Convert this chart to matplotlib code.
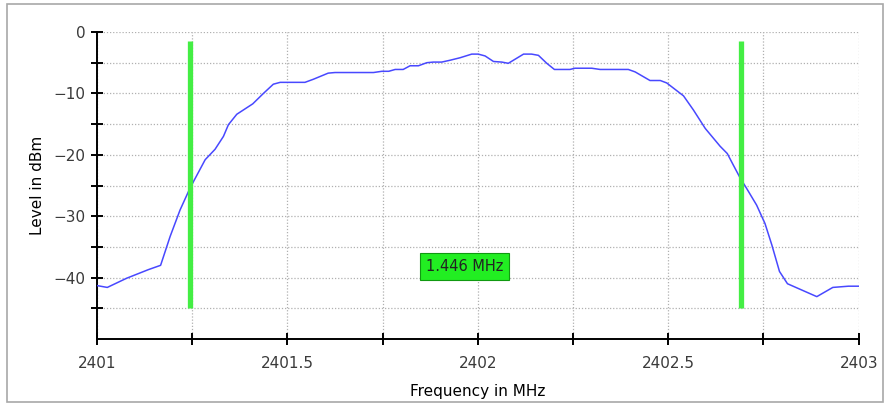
import numpy as np
import matplotlib
matplotlib.use("Agg")
import matplotlib.pyplot as plt
from matplotlib.patches import Rectangle
from matplotlib.ticker import MultipleLocator

# spectrum trace
freq = [2401.000, 2401.027, 2401.078, 2401.135, 2401.167, 2401.192, 2401.218,
        2401.240, 2401.253, 2401.284, 2401.310, 2401.332, 2401.345, 2401.367,
        2401.409, 2401.437, 2401.463, 2401.481, 2401.546, 2401.568, 2401.607,
        2401.625, 2401.726, 2401.748, 2401.766, 2401.783, 2401.804, 2401.822,
        2401.844, 2401.866, 2401.883, 2401.905, 2401.927, 2401.953, 2401.984,
        2402.001, 2402.019, 2402.041, 2402.063, 2402.080, 2402.120, 2402.141,
        2402.159, 2402.181, 2402.201, 2402.242, 2402.255, 2402.299, 2402.321,
        2402.395, 2402.413, 2402.452, 2402.479, 2402.496, 2402.540, 2402.566,
        2402.597, 2402.636, 2402.655, 2402.671, 2402.689, 2402.706, 2402.732,
        2402.754, 2402.772, 2402.792, 2402.813, 2402.890, 2402.932, 2402.973,
        2403.000]
level = [-41.3, -41.6, -40.1, -38.7, -38.0, -33.3, -29.0,
         -26.0, -24.4, -20.8, -19.1, -17.0, -15.1, -13.4,
         -11.7, -10.0, -8.5, -8.2, -8.2, -7.7, -6.7,
         -6.6, -6.6, -6.4, -6.4, -6.1, -6.1, -5.5,
         -5.5, -5.0, -4.9, -4.9, -4.6, -4.2, -3.6,
         -3.6, -3.9, -4.8, -4.9, -5.1, -3.6, -3.6,
         -3.8, -5.1, -6.1, -6.1, -5.9, -5.9, -6.1,
         -6.1, -6.5, -7.9, -7.9, -8.3, -10.4, -12.7,
         -15.7, -18.6, -19.8, -21.7, -23.8, -25.5, -28.2,
         -31.2, -34.7, -39.0, -41.0, -43.1, -41.6, -41.4,
         -41.4]

markers = [2401.245, 2402.691]
marker_top, marker_bottom = -1.4, -45.0
bw_text = "1.446 MHz"
bw_pos = (2401.966, -38.2)

xticks = [2401, 2401.5, 2402, 2402.5, 2403]
xticklabels = ["2401", "2401.5", "2402", "2402.5", "2403"]
yticks = [0, -10, -20, -30, -40]
yminor = [-5, -15, -25, -35, -45]

fig = plt.figure(figsize=(8.85, 4.08), dpi=100)
fig.add_artist(Rectangle((7 / 885, 1 - 402 / 408), 876 / 885, 398 / 408,
                         transform=fig.transFigure, fill=False,
                         edgecolor="#a8a8a8", lw=1.2))

ax = fig.add_axes([97 / 885, 1 - 339 / 408, 761.7 / 885, 307 / 408])

ax.plot(freq, level, color="#4848ff", lw=1.1, zorder=3)
for m in markers:
    ax.plot([m, m], [marker_bottom, marker_top], color="#44ee44", lw=3.8,
            solid_capstyle="butt", zorder=4)

ax.text(*bw_pos, bw_text, ha="center", va="center", fontsize=10.5,
        color="#222222", zorder=5,
        bbox=dict(boxstyle="square,pad=0.4", facecolor="#22ee22",
                  edgecolor="#119911", lw=0.8))

ax.set_xlim(2401, 2403)
ax.set_ylim(-50, 0)
ax.set_xticks(xticks)
ax.set_xticklabels(xticklabels)
ax.xaxis.set_minor_locator(MultipleLocator(0.25))
ax.set_yticks(yticks)
ax.set_yticks(yminor, minor=True)

ax.grid(True, which="both", color="#b0b0b0", ls=(0, (1, 1.5)), lw=0.9)
for s in ["top", "right"]:
    ax.spines[s].set_visible(False)
for s in ["left", "bottom"]:
    ax.spines[s].set_linewidth(1.4)
ax.tick_params(which="both", direction="inout", length=9, width=1.4,
               labelsize=11, labelcolor="#3a3a3a")
ax.tick_params(axis="x", pad=8)
ax.set_xlabel("Frequency in MHz", fontsize=11, labelpad=9)
ax.set_ylabel("Level in dBm", fontsize=11, labelpad=6)

plt.savefig("out.png", dpi=100)
